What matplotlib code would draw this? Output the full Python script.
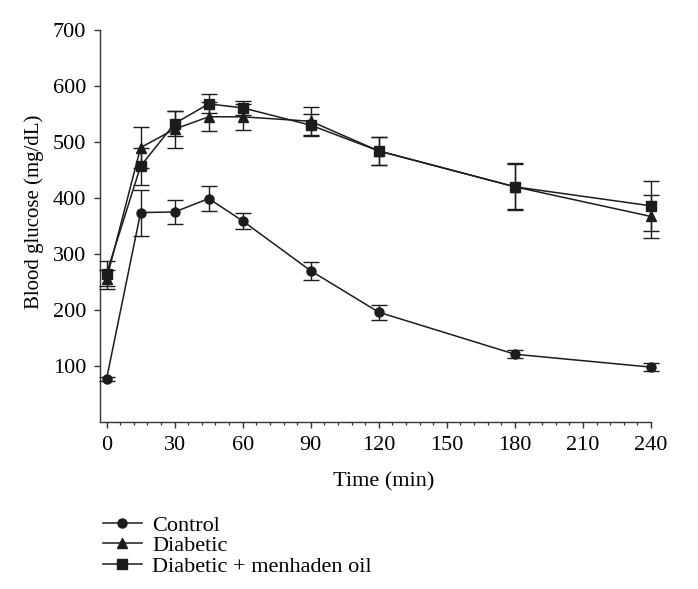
import matplotlib
matplotlib.use("Agg")
import matplotlib.pyplot as plt

time_min = [0, 15, 30, 45, 60, 90, 120, 180, 240]

control = [77, 374, 375, 399, 359, 270, 196, 121, 98]
control_err = [3, 41, 21, 22, 14, 16, 13, 7, 7]

diabetic = [255, 490, 523, 545, 545, 537, 484, 420, 367]
diabetic_err = [17, 37, 33, 26, 23, 25, 25, 40, 38]

oil = [265, 457, 533, 568, 561, 530, 484, 420, 386]
oil_err = [22, 33, 22, 17, 13, 20, 25, 42, 45]

series = [("Control", control, control_err, "o"),
          ("Diabetic", diabetic, diabetic_err, "^"),
          ("Diabetic + menhaden oil", oil, oil_err, "s")]

plt.rcParams["font.family"] = ["Liberation Serif", "DejaVu Serif"]
fig = plt.figure(figsize=(6.98, 5.89), dpi=100)
# axes box: x from px 100 to 651, y from px 30 to 422
ax = fig.add_axes([100 / 698, 1 - 422 / 589, 551 / 698, 392 / 589])

ink = "#1c1c1c"
handles = []
for name, y, err, mk in series:
    ms = 6.5 if mk == "o" else 7
    lines = ax.errorbar(time_min, y, yerr=err, color=ink, lw=1.1, elinewidth=1.0,
                        capsize=5.5, capthick=1.0, marker=mk, ms=ms, zorder=3)
    for art in lines.lines[1] + lines.lines[2]:
        art.set_clip_on(False)
    lines.lines[0].set_clip_on(False)
    h, = ax.plot([], [], color=ink, lw=1.1, marker=mk, ms=ms)
    handles.append(h)

ax.set_xlim(-2.9, 240)
ax.set_ylim(0, 700)
ax.set_xticks(range(0, 241, 30))
ax.set_xticks(range(0, 241, 6), minor=True)
ax.set_yticks(range(100, 701, 100))
for s in ("top", "right"):
    ax.spines[s].set_visible(False)
for s in ("left", "bottom"):
    ax.spines[s].set_linewidth(1.0)
    ax.spines[s].set_color("#333333")
ax.tick_params(axis="both", which="major", direction="out", length=4, width=1.0,
               pad=6, labelsize=16, color="#333333")
ax.tick_params(axis="x", which="minor", direction="out", length=2.5, width=0.9,
               color="#333333")
ax.set_xlabel("Time (min)", fontsize=16)
ax.set_ylabel("Blood glucose (mg/dL)", fontsize=15)
ax.xaxis.set_label_coords(0.514, -0.128)
ax.yaxis.set_label_coords(-0.101, 0.535)

fig.legend(handles, [s[0] for s in series], loc="upper left",
           bbox_to_anchor=(103 / 698, 1 - 515 / 589), frameon=False, fontsize=16,
           handlelength=1.75, handletextpad=0.45, labelspacing=0.0,
           borderaxespad=0, borderpad=0, numpoints=1)

fig.savefig("out.png", dpi=100)
